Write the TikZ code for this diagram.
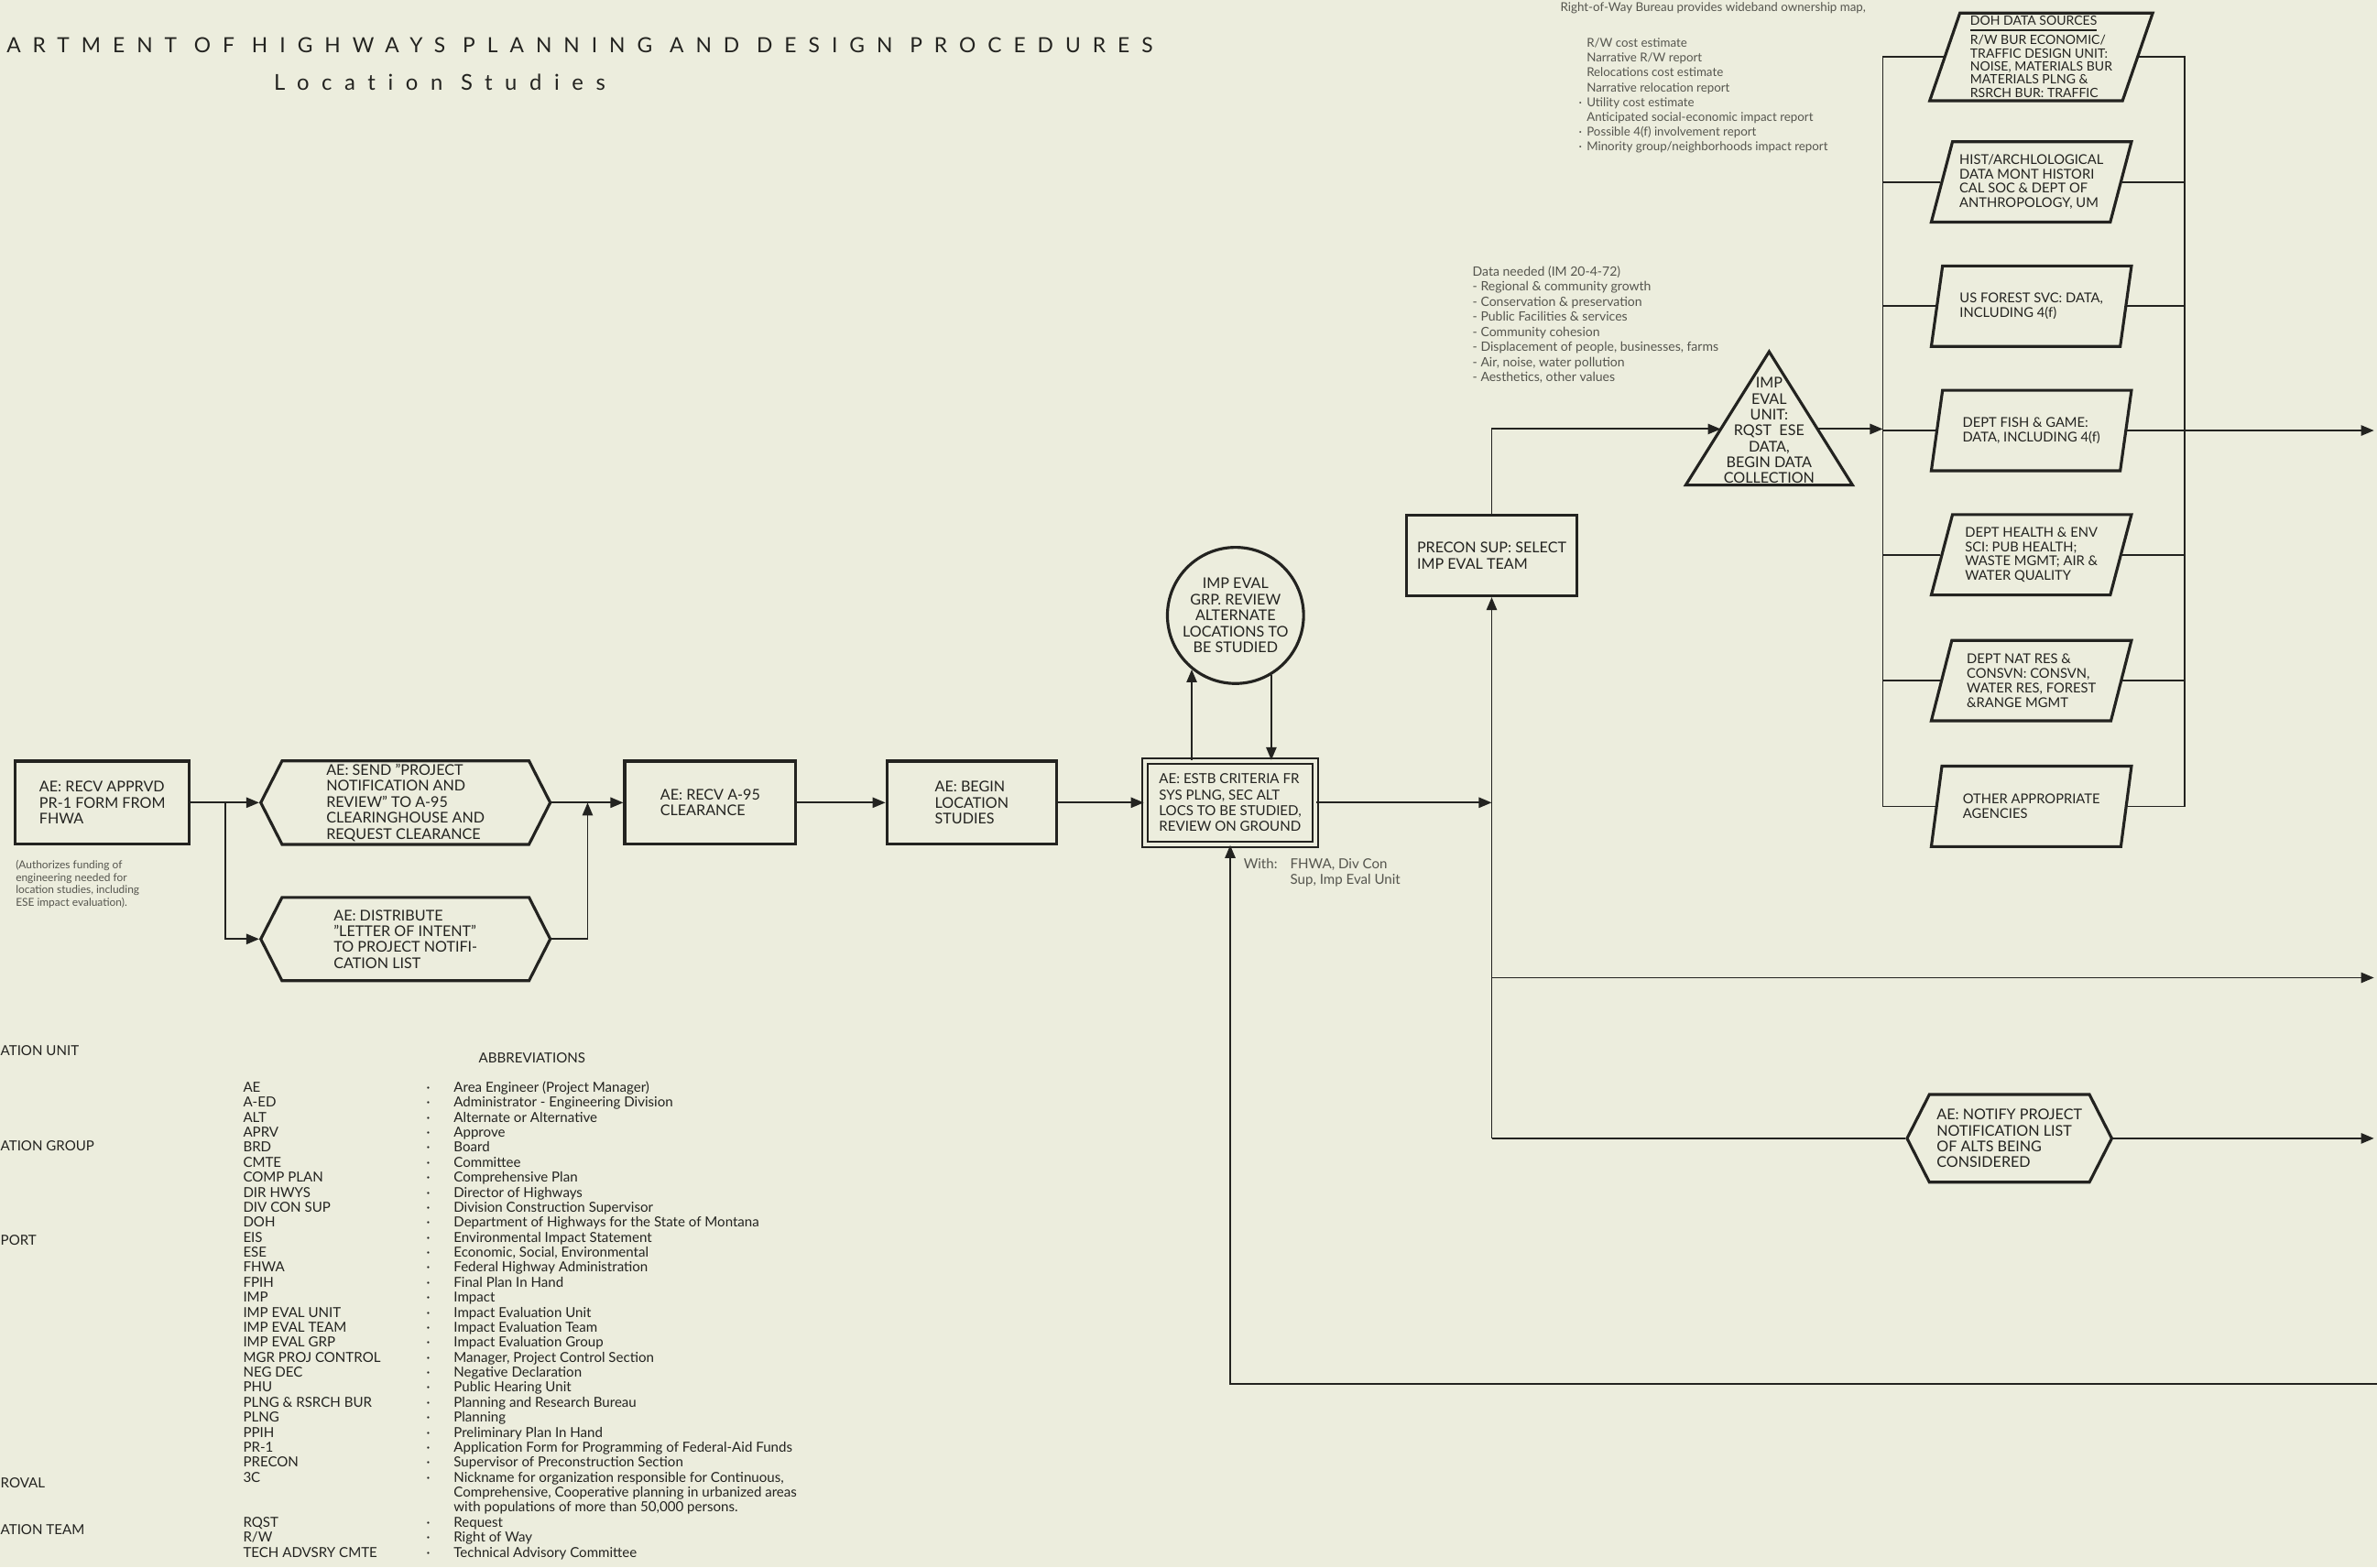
\documentclass[tikz,border=0pt]{standalone}
\usepackage{fontspec}
\setmainfont{Lato}
\newfontfamily\bannerfont[LetterSpace=57, Ligatures={NoCommon, NoRare, NoContextual}]{Lato}
\usetikzlibrary{shapes.geometric, shapes.symbols, arrows.meta, positioning, calc}
\definecolor{paper}{RGB}{236,237,221}
\definecolor{ink}{RGB}{35,35,32}
\definecolor{note}{RGB}{85,85,78}
\newcommand{\boxtxt}{\fontsize{4.6}{4.95}\selectfont}
\newcommand{\agencytxt}{\fontsize{4.2}{4.5}\selectfont}
\newcommand{\abbrtxt}{\fontsize{4.3}{4.67}\selectfont}
\newcommand{\smalltxt}{\fontsize{4.0}{4.7}\selectfont}

\begin{document}
\begin{tikzpicture}[
    x=0.016582cm, y=-0.016582cm,
    stepbox/.style={rectangle, draw=ink, line width=0.9pt, minimum width=1.87cm, minimum height=0.91cm, font=\boxtxt, text=ink, align=left, inner sep=1pt},
    hexbox/.style={signal, signal to=west and east, signal pointer angle=126, draw=ink, line width=0.9pt, minimum height=0.91cm, font=\boxtxt, text=ink, align=left, inner sep=1pt},
    agency/.style={trapezium, trapezium left angle=71, trapezium right angle=109, trapezium stretches body, draw=ink, line width=0.9pt, minimum width=2.19cm, minimum height=0.88cm, font=\agencytxt, text=ink, align=left, inner sep=1pt},
    conn/.style={draw=ink, line width=0.55pt},
    arr/.style={conn, -{Triangle[length=4pt, width=3.2pt]}},
    remark/.style={font=\smalltxt, text=note, align=left, inner sep=0pt},
]
\useasboundingbox[fill=paper] (0,0) rectangle (1568,1034);

% titel
\node[anchor=west, font={\bannerfont\fontsize{6.5}{7}\selectfont}, text=ink, inner sep=0pt] (title) at (4,30) {ARTMENT OF HIGHWAYS PLANNING AND DESIGN PROCEDURES};
\node[font={\bannerfont\fontsize{6.8}{7}\selectfont}, text=ink, inner sep=0pt] (subtitle) at (290,54) {Location Studies};

% eerste rij
\node[stepbox, minimum width=1.907cm] (recv) at (67.5,529.5) {AE: RECV APPRVD\\PR-1 FORM FROM\\FHWA};
\node[remark, anchor=north west, font={\fontsize{3.4}{3.9}\selectfont}] (authorizes) at (10,567) {(Authorizes funding of\\engineering needed for\\location studies, including\\ESE impact evaluation).};

\node[hexbox, minimum width=3.167cm] (send) at (267.5,529.5) {AE: SEND "PROJECT\\NOTIFICATION AND\\REVIEW" TO A-95\\CLEARINGHOUSE AND\\REQUEST CLEARANCE};
\node[hexbox, minimum width=3.167cm] (letter) at (267.5,619.5) {AE: DISTRIBUTE\\"LETTER OF INTENT"\\TO PROJECT NOTIFI-\\CATION LIST};

\node[stepbox] (clear) at (468.5,529.5) {AE: RECV A-95\\CLEARANCE};
\node[stepbox, minimum width=1.857cm] (begin) at (641,529.5) {AE: BEGIN\\LOCATION\\STUDIES};
\node[stepbox, font={\fontsize{4.3}{4.95}\selectfont}, double=paper, double distance=1.1pt, line width=0.6pt] (estb) at (811.5,529.5) {AE: ESTB CRITERIA FR\\SYS PLNG, SEC ALT\\LOCS TO BE STUDIED,\\REVIEW ON GROUND};
\node[remark, anchor=north west, font={\fontsize{4.3}{4.7}\selectfont}] (with) at (820,566) {\begin{tabular}{@{}l@{\hspace{4pt}}l@{}}With: & FHWA, Div Con\\ & Sup, Imp Eval Unit\end{tabular}};

\node[circle, draw=ink, line width=0.9pt, minimum size=1.49cm, font=\boxtxt, text=ink, align=center, inner sep=0pt] (review) at (815,406) {IMP EVAL\\GRP. REVIEW\\ALTERNATE\\LOCATIONS TO\\BE STUDIED};

\node[stepbox, minimum width=1.857cm, minimum height=0.879cm] (precon) at (984,366.5) {PRECON SUP: SELECT\\IMP EVAL TEAM};

% driehoek
\coordinate (apex) at (1167,232);
\coordinate (baseL) at (1112,320);
\coordinate (baseR) at (1222,320);
\draw[ink, line width=0.9pt, line join=miter] (apex) -- (baseL) -- (baseR) -- cycle;
\node[font=\boxtxt, text=ink, align=center, inner sep=0pt] (evalunit) at (1167,284) {IMP\\EVAL\\UNIT:\\RQST\ \ ESE\\DATA,\\BEGIN DATA\\COLLECTION};
\coordinate (triL) at ($(apex)!0.58!(baseL)$);
\coordinate (triR) at ($(apex)!0.58!(baseR)$);

\node[remark, anchor=north west] (dataneeded) at (971,175) {Data needed (IM 20-4-72)\\- Regional \& community growth\\- Conservation \& preservation\\- Public Facilities \& services\\- Community cohesion\\- Displacement of people, businesses, farms\\- Air, noise, water pollution\\- Aesthetics, other values};

% instanties
\node[agency, minimum width=2.44cm, minimum height=0.91cm, font={\fontsize{4.0}{4.1}\selectfont}] (doh) at (1346.5,37.5) {\underline{DOH DATA SOURCES}\\R/W BUR ECONOMIC/\\TRAFFIC DESIGN UNIT:\\NOISE, MATERIALS BUR\\MATERIALS PLNG \&\\RSRCH BUR: TRAFFIC};
\node[agency] (hist) at (1340,120) {HIST/ARCHLOLOGICAL\\DATA MONT HISTORI\\CAL SOC \& DEPT OF\\ANTHROPOLOGY, UM};
\node[agency] (forest) at (1340,202) {US FOREST SVC: DATA,\\INCLUDING 4(f)};
\node[agency] (fish) at (1340,284) {DEPT FISH \& GAME:\\DATA, INCLUDING 4(f)};
\node[agency] (health) at (1340,366) {DEPT HEALTH \& ENV\\SCI: PUB HEALTH;\\WASTE MGMT; AIR \&\\WATER QUALITY};
\node[agency] (natres) at (1340,449) {DEPT NAT RES \&\\CONSVN: CONSVN,\\WATER RES, FOREST\\\&RANGE MGMT};
\node[agency] (other) at (1340,532) {OTHER APPROPRIATE\\AGENCIES};

\node[remark, anchor=north west, font={\fontsize{3.8}{4.6}\selectfont}] (rwbureau) at (1029,1) {Right-of-Way Bureau provides wideband ownership map,};
\node[remark, anchor=north west, font={\fontsize{3.8}{4.6}\selectfont}] (rwlist) at (1041,24) {\begin{tabular}{@{}l@{\hspace{1.5pt}}l@{}}
 & R/W cost estimate\\
 & Narrative R/W report\\
 & Relocations cost estimate\\
 & Narrative relocation report\\
· & Utility cost estimate\\
 & Anticipated social-economic impact report\\
· & Possible 4(f) involvement report\\
· & Minority group/neighborhoods impact report
\end{tabular}};

\node[hexbox, minimum width=2.24cm, minimum height=0.96cm] (notify) at (1325.5,751) {AE: NOTIFY PROJECT\\NOTIFICATION LIST\\OF ALTS BEING\\CONSIDERED};

% hulppunten
\coordinate (fork) at ($(recv.east)!0.5!(send.west)$);
\coordinate (merge) at ($(send.east)!0.5!(clear.west)$);
\coordinate (split) at (precon.south |- estb.east);
\coordinate (edgeR) at (1566,0);
\coordinate (branch) at (1566,645);
\coordinate (back) at (1568,913);
\coordinate (lbus) at (1242,284);
\coordinate (rbus) at (1441,284);

% stroom
\draw[arr] (recv.east) -- (send.west);
\draw[arr] (fork) |- (letter.west);
\draw[arr] (send.east) -- (clear.west);
\draw[arr] (letter.east) -| (merge);
\draw[arr] (clear.east) -- (begin.west);
\draw[arr] (begin.east) -- (estb.west);
\draw[arr] (estb.north -| review.231) -- (review.231);
\draw[arr] (review.301) -- (review.301 |- estb.north);
\draw[arr] (estb.east) -- (split);
\draw[arr] (split |- notify.west) -- (precon.south);
\draw[conn] (split |- notify.west) -- (notify.west);
\draw[arr] (notify.east) -- (notify.east -| edgeR);
\draw[arr] (split |- branch) -- (branch);
\draw[arr] (back) -| (estb.south);
\draw[arr] (precon.north) |- (triL);
\draw[arr] (triR) -- (triR -| lbus);

% verzamelrails
\draw[conn] (doh.left side) -| (lbus) |- (other.left side);
\draw[conn] (doh.right side) -| (rbus) |- (other.right side);
\foreach \p in {hist, forest, fish, health, natres} {
  \draw[conn] (\p.left side) -- (\p.left side -| lbus);
}
\foreach \p in {hist, forest, health, natres} {
  \draw[conn] (\p.right side) -- (\p.right side -| rbus);
}
\draw[arr] (fish.right side) -- (fish.right side -| edgeR);

% afkortingen
\node[font=\abbrtxt, text=ink, inner sep=0pt] (abbrhead) at (351,698) {ABBREVIATIONS};
\node[anchor=north west, font=\abbrtxt, text=ink, inner sep=0pt] (abbrevs) at (160,713) {\begin{tabular}{@{}p{2.006cm}@{}p{0.298cm}@{}l@{}}
AE & · & Area Engineer (Project Manager)\\
A-ED & · & Administrator - Engineering Division\\
ALT & · & Alternate or Alternative\\
APRV & · & Approve\\
BRD & · & Board\\
CMTE & · & Committee\\
COMP PLAN & · & Comprehensive Plan\\
DIR HWYS & · & Director of Highways\\
DIV CON SUP & · & Division Construction Supervisor\\
DOH & · & Department of Highways for the State of Montana\\
EIS & · & Environmental Impact Statement\\
ESE & · & Economic, Social, Environmental\\
FHWA & · & Federal Highway Administration\\
FPIH & · & Final Plan In Hand\\
IMP & · & Impact\\
IMP EVAL UNIT & · & Impact Evaluation Unit\\
IMP EVAL TEAM & · & Impact Evaluation Team\\
IMP EVAL GRP & · & Impact Evaluation Group\\
MGR PROJ CONTROL & · & Manager, Project Control Section\\
NEG DEC & · & Negative Declaration\\
PHU & · & Public Hearing Unit\\
PLNG \& RSRCH BUR & · & Planning and Research Bureau\\
PLNG & · & Planning\\
PPIH & · & Preliminary Plan In Hand\\
PR-1 & · & Application Form for Programming of Federal-Aid Funds\\
PRECON & · & Supervisor of Preconstruction Section\\
3C & · & Nickname for organization responsible for Continuous,\\
 & & Comprehensive, Cooperative planning in urbanized areas\\
 & & with populations of more than 50,000 persons.\\
RQST & · & Request\\
R/W & · & Right of Way\\
TECH ADVSRY CMTE & · & Technical Advisory Committee
\end{tabular}};

% afgesneden legenda links
\node[anchor=west, font=\abbrtxt, text=ink, inner sep=0pt] (legunit) at (0,693) {ATION UNIT};
\node[anchor=west, font=\abbrtxt, text=ink, inner sep=0pt] (leggroup) at (0,756) {ATION GROUP};
\node[anchor=west, font=\abbrtxt, text=ink, inner sep=0pt] (legreport) at (0,818) {PORT};
\node[anchor=west, font=\abbrtxt, text=ink, inner sep=0pt] (legapproval) at (0,978) {ROVAL};
\node[anchor=west, font=\abbrtxt, text=ink, inner sep=0pt] (legteam) at (0,1009) {ATION TEAM};

\end{tikzpicture}
\end{document}
